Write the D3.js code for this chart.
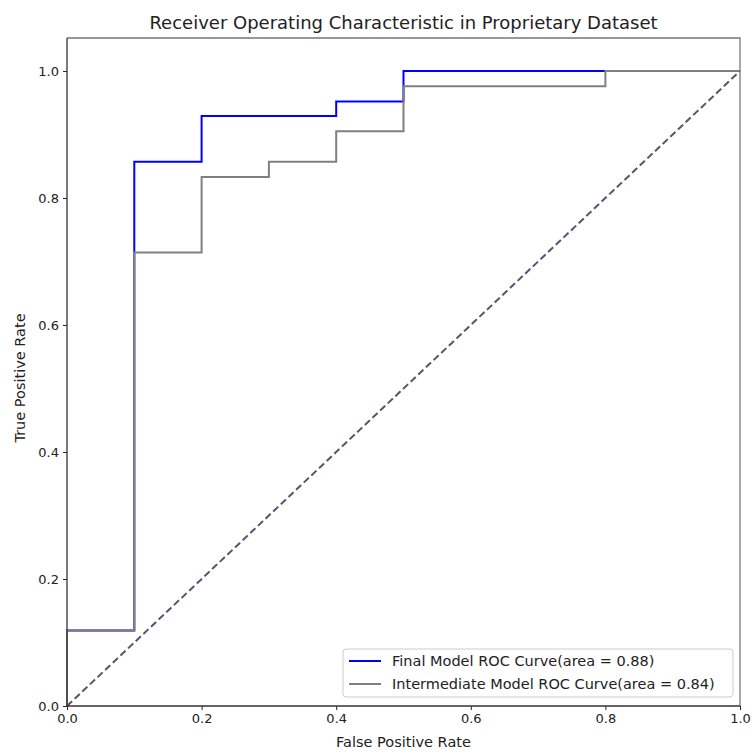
<!DOCTYPE html>
<html>
<head>
<meta charset="utf-8">
<script src="https://cdn.jsdelivr.net/npm/d3@7"></script>
<style>
  body { margin: 0; background: #fff; }
  text { font-family: "DejaVu Sans", sans-serif; fill: #222; }
</style>
</head>
<body>
<svg id="chart"></svg>
<script>
// roc curves

var finalFpr = [0, 0, 0.1, 0.1, 0.2, 0.2, 0.4, 0.4, 0.5, 0.5, 1.0];
var finalTpr = [0, 0.119, 0.119, 0.857, 0.857, 0.929, 0.929, 0.952, 0.952, 1.0, 1.0];

var interFpr = [0, 0, 0.1, 0.1, 0.2, 0.2, 0.3, 0.3, 0.4, 0.4, 0.5, 0.5, 0.8, 0.8, 1.0];
var interTpr = [0, 0.119, 0.119, 0.714, 0.714, 0.833, 0.833, 0.857, 0.857, 0.905, 0.905, 0.976, 0.976, 1.0, 1.0];

var chanceFpr = [0, 1];
var chanceTpr = [0, 1];

var tickValues = [0, 0.2, 0.4, 0.6, 0.8, 1.0];
var legendLabels = ["Final Model ROC Curve(area = 0.88)", "Intermediate Model ROC Curve(area = 0.84)"];

var width = 752, height = 754;
var margin = {left: 67, right: 12, top: 38, bottom: 48};

var chart = d3.select("#chart").attr("width", width).attr("height", height);

var xscale = d3.scaleLinear()
    .domain([0, 1])
    .range([margin.left, width - margin.right]);

var yscale = d3.scaleLinear()
    .domain([0, 1.052])
    .range([height - margin.bottom, margin.top]);

function pairs(xs, ys) {
  return xs.map(function(x, i) { return [x, ys[i]]; });
}

var line = d3.line()
    .x(function(d) { return xscale(d[0]); })
    .y(function(d) { return yscale(d[1]); });

chart.append("path")
    .attr("d", line(pairs(finalFpr, finalTpr)))
    .style("stroke", "blue").style("stroke-width", 2).style("fill", "none");

chart.append("path")
    .attr("d", line(pairs(interFpr, interTpr)))
    .style("stroke", "#808080").style("stroke-width", 2).style("fill", "none");

chart.append("path")
    .attr("d", line(pairs(chanceFpr, chanceTpr)))
    .style("stroke", "#55556f").style("stroke-width", 2)
    .style("stroke-dasharray", "7,3.5").style("fill", "none");

// axes
var xaxis = d3.axisBottom(xscale).tickValues(tickValues).tickFormat(d3.format(".1f")).tickSize(4).tickPadding(4);
var yaxis = d3.axisLeft(yscale).tickValues(tickValues).tickFormat(d3.format(".1f")).tickSize(4).tickPadding(4);

var gx = chart.append("g").attr("transform", "translate(0," + (height - margin.bottom) + ")").call(xaxis);
var gy = chart.append("g").attr("transform", "translate(" + margin.left + ",0)").call(yaxis);
[gx, gy].forEach(function(g) {
  g.select(".domain").remove();
  g.selectAll("line").style("stroke", "#222");
  g.selectAll("text").style("font-size", "13px").style("fill", "#222");
});

// frame: top/right lighter, left/bottom darker as in the picture
var x0 = xscale(0), x1 = xscale(1), y0 = yscale(0), y1 = yscale(1.052);
chart.append("path").attr("d", "M" + x0 + "," + y1 + "H" + x1 + "V" + y0)
    .style("fill", "none").style("stroke", "#777").style("stroke-width", 1.3);
chart.append("path").attr("d", "M" + x0 + "," + y1 + "V" + y0 + "H" + x1)
    .style("fill", "none").style("stroke", "#333").style("stroke-width", 1.3);

// labels
chart.append("text").attr("x", (x0 + x1) / 2).attr("y", 29)
    .attr("text-anchor", "middle").style("font-size", "18px").text("Receiver Operating Characteristic in Proprietary Dataset");
chart.append("text").attr("x", (x0 + x1) / 2).attr("y", 747)
    .attr("text-anchor", "middle").style("font-size", "14.5px").text("False Positive Rate");
chart.append("text")
    .attr("transform", "translate(25," + ((y0 + y1) / 2 + 6) + ") rotate(-90)")
    .attr("text-anchor", "middle").style("font-size", "14.5px").text("True Positive Rate");

// legend
var legend = chart.append("g").attr("transform", "translate(343,649)");
legend.append("rect").attr("width", 390).attr("height", 48).attr("rx", 3)
    .style("fill", "#fff").style("fill-opacity", 0.8).style("stroke", "#ccc");
var colors = ["blue", "#808080"];
legendLabels.forEach(function(lbl, i) {
  var y = 12 + i * 23;
  legend.append("line").attr("x1", 6).attr("x2", 38).attr("y1", y).attr("y2", y)
      .style("stroke", colors[i]).style("stroke-width", 2);
  legend.append("text").attr("x", 49).attr("y", y + 5).style("font-size", "14.5px").text(lbl);
});
</script>
</body>
</html>
